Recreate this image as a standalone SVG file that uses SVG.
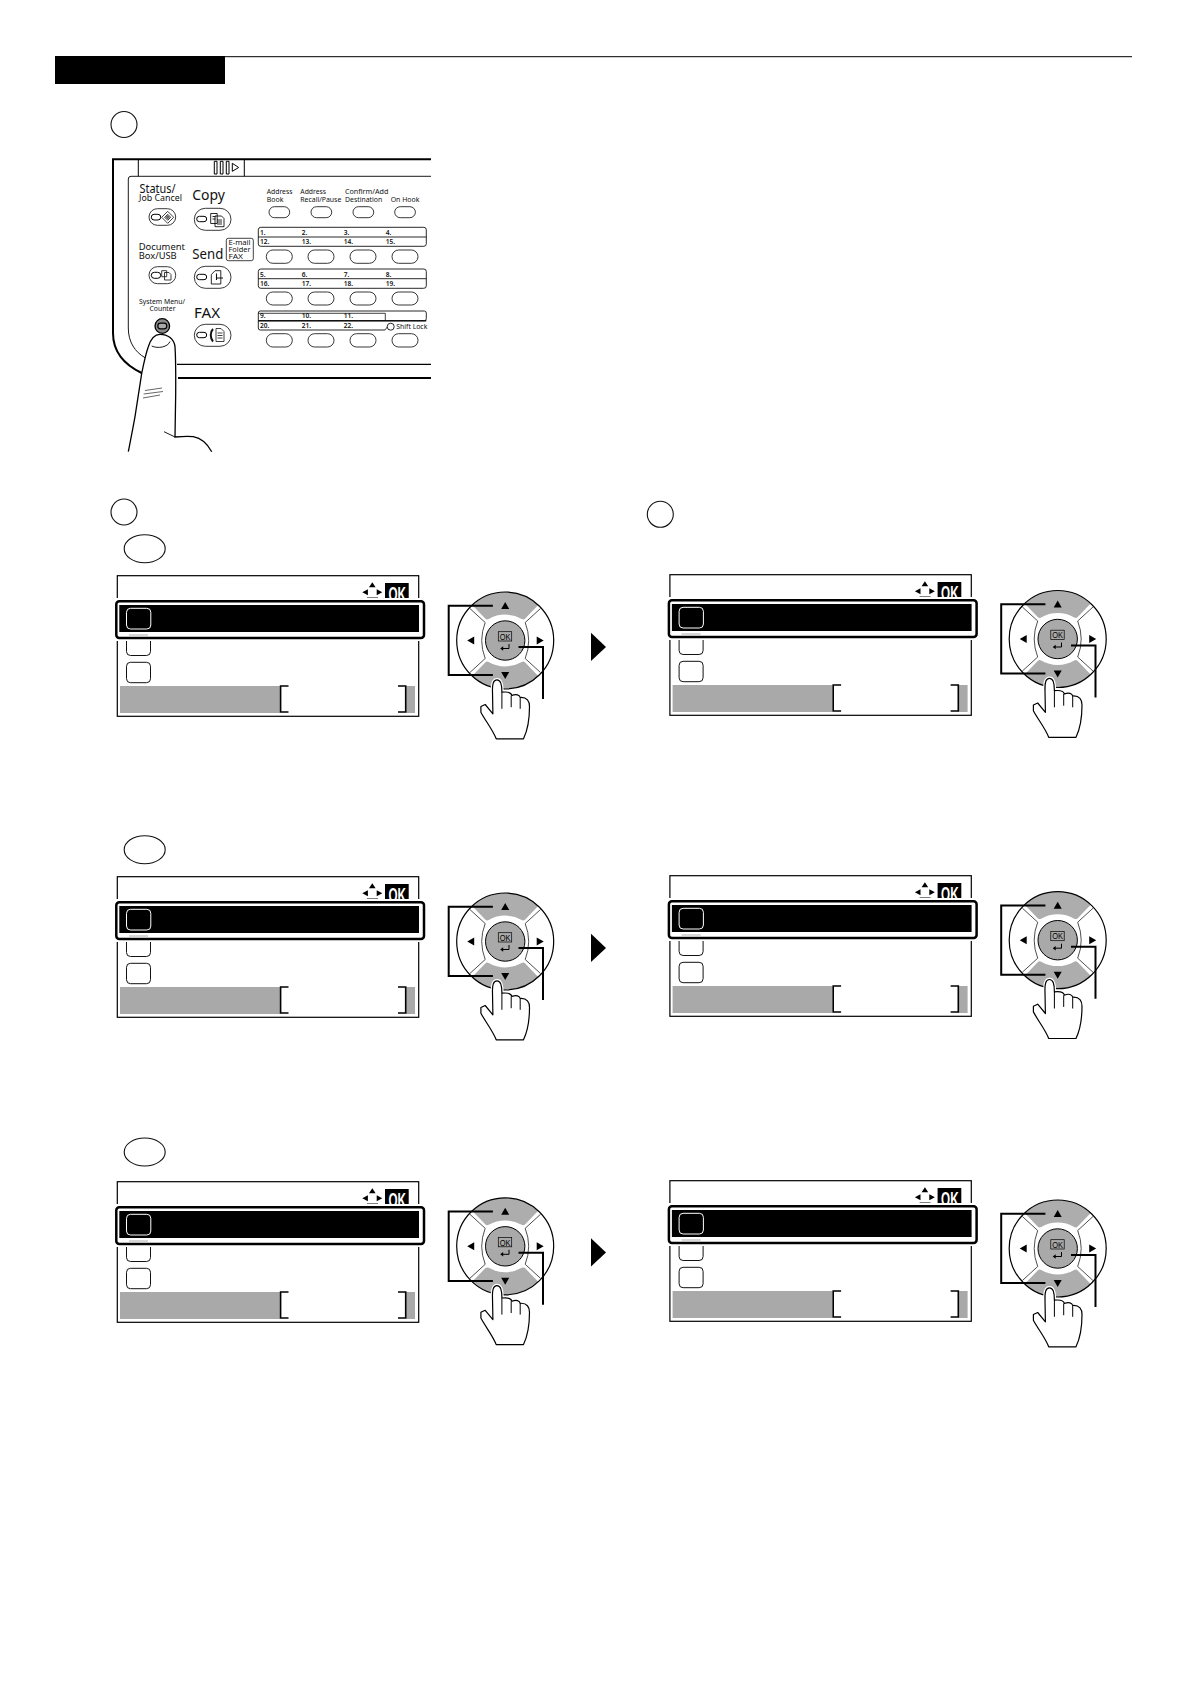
<svg xmlns="http://www.w3.org/2000/svg" width="1190" height="1684" viewBox="0 0 1190 1684">
<style>
text{font-family:"Noto Sans","Open Sans","Liberation Sans",sans-serif;fill:#111}
.l{fill:none;stroke:#000;stroke-width:1}
.k{fill:#fff;stroke:#222;stroke-width:.9}
.b{fill:#fff;stroke:#111;stroke-width:1}
.t6{font-size:6.6px}
.n{font-size:6.6px;font-weight:600}
.t15{font-size:14.5px}
.step{fill:#fff;stroke:#111;stroke-width:1.1}
.sec{fill:#adadad}
.lead{fill:none;stroke:#000;stroke-width:2}
</style>
<defs>
<g id="lcd">
<rect x="117.3" y="575.7" width="301.4" height="140.6" fill="#fff" stroke="#000" stroke-width="1.2"/>
<rect x="120" y="686" width="160" height="27" fill="#a9a9a9"/>
<rect x="406" y="686" width="9" height="27" fill="#a9a9a9"/>
<path d="M288.5,686H280.6V712H288.5M398,686H405.7V712H398" fill="none" stroke="#000" stroke-width="1.6"/>
<rect x="126.5" y="630" width="24" height="25.5" rx="4" class="b" stroke-width=".9"/>
<rect x="126.5" y="662.3" width="24" height="20.4" rx="4" class="b"/>
<path d="M372.3,582.3l3.3,5h-6.6zM362.3,592.3l5.6,-3v6zM382.3,592.3l-5.6,-3v6z" fill="#000"/>
<path d="M367,598H378" class="l" stroke-width=".8"/>
<rect x="385" y="583" width="23.7" height="20" fill="#000"/>
<text x="388.5" y="600.7" style="fill:#fff;font-family:'Liberation Sans',sans-serif;font-weight:700;font-size:20px" textLength="17.5" lengthAdjust="spacingAndGlyphs">OK</text>
<rect x="112" y="598" width="318" height="43" fill="#fff"/>
<rect x="116.3" y="601.3" width="307.7" height="36.7" rx="3" fill="#fff" stroke="#000" stroke-width="2.5"/>
<rect x="119.3" y="605" width="299.7" height="27" fill="#000"/>
<rect x="126.5" y="608.3" width="24.3" height="20.7" rx="4" fill="#000" stroke="#fff" stroke-width="1"/>
<path d="M129,635H148" stroke="#999" stroke-width=".8"/>
</g>
<g id="dial">
<circle cx="0" cy="0" r="48.5" fill="#fff"/>
<path class="sec" d="M-33,-35.5A48.5,48.5 0 0 1 33,-35.5L20,-22Q18.5,-20.5 16.5,-21.5A33,33 0 0 0 -16.5,-21.5Q-18.5,-20.5 -20,-22Z"/>
<path class="sec" d="M-33,35.5A48.5,48.5 0 0 0 33,35.5L20,22Q18.5,20.5 16.5,21.5A33,33 0 0 1 -16.5,21.5Q-18.5,20.5 -20,22Z"/>
<circle cx="0" cy="0" r="48.5" fill="none" stroke="#000" stroke-width="1.2"/>
<path d="M-35.3,-32L-20,-18Q-27,0 -20,18L-35.3,32M35.3,-32L20,-18Q27,0 20,18L35.3,32" fill="none" stroke="#222" stroke-width=".8"/>
<circle cx="0" cy="0" r="19.7" fill="#a9a9a9" stroke="#000" stroke-width="1"/>
<rect x="-6.9" y="-8.8" width="13.4" height="9.3" fill="none" stroke="#000" stroke-width=".7"/>
<text x="-5.5" y="-.8" style="fill:#000;font-family:'Liberation Sans',sans-serif;font-size:9.5px" textLength="10.8" lengthAdjust="spacingAndGlyphs">OK</text>
<path d="M3.8,3.5V8H-3" fill="none" stroke="#000" stroke-width="1"/>
<path d="M-5,8l3,-2.300v4.600zM0,-38.5l4,7h-8zM0,38.5l4,-7h-8zM-38,0l7,-4v8zM38.5,0l-7,-4v8z" fill="#000"/>
<path d="M-12.7,51.7C-13,44 -12,39.3 -8.3,39.3C-4.5,39.3 -3.3,44 -3.3,51.7C3,51 6,52 6.7,55C11,53 14.5,54.5 15,57C22,56.5 24.3,61 24.3,66C24.3,80 22.3,90 18.3,98.3H-9C-12,90 -20,80 -24.3,71.7V66L-20,64L-12.3,73.3Z" fill="#fff" stroke="#fff" stroke-width="3.5"/>
<path d="M-12.7,51.7C-13,44 -12,39.3 -8.3,39.3C-4.5,39.3 -3.3,44 -3.3,51.7C3,51 6,52 6.7,55C11,53 14.5,54.5 15,57C22,56.5 24.3,61 24.3,66C24.3,80 22.3,90 18.3,98.3H-9C-12,90 -20,80 -24.3,71.7V66L-20,64L-12.3,73.3Z" fill="#fff" stroke="#000" stroke-width="1.2" stroke-linejoin="round"/>
<path d="M-3.3,51.7V68.3M6,55V66.7M15,57V68.3" class="l"/>
</g>
<path id="leaders" class="lead" d="M-12.3,-34.8H-56.5V34.6H-12.3M13.3,6.5H37.8V58.5"/>
<path id="next" d="M591,632.7L606,647L591,661Z" fill="#000"/>
</defs>

<g id="header">
<rect x="55" y="56" width="170" height="28" fill="#000"/>
<path d="M225,56.7H1132" stroke="#000" stroke-width="1"/>
</g>

<g id="step-1"><circle class="step" cx="124" cy="124.5" r="13"/></g>

<g id="panel">
<path d="M431,159.3H113V333C113,352 125,365 141.7,373" fill="none" stroke="#000" stroke-width="2"/>
<path d="M178,378H431" fill="none" stroke="#000" stroke-width="2"/>
<path d="M177,364.3H431" fill="none" stroke="#000" stroke-width="1.2"/>
<path d="M431,176.3H131Q128.3,176.3 128.3,179V328C128.3,342 135,352 145,357.7" fill="none" stroke="#000" stroke-width=".9"/>
<path d="M138.3,159.3V176.3M244.3,159.3V176.3" class="l"/>
<path d="M214.3,161.3h2.7v12.7h-2.7zM220.3,161.3h2.7v12.7h-2.7zM226.3,161.3h2.7v12.7h-2.7zM232.3,163.3l6.4,4.2l-6.4,3.8z" class="l"/>

<text x="139.5" y="192.5" style="font-size:12px" textLength="36" lengthAdjust="spacingAndGlyphs">Status/</text>
<text x="139" y="200.7" style="font-size:9px" textLength="43" lengthAdjust="spacingAndGlyphs">Job Cancel</text>
<text x="192.3" y="199.8" class="t15" textLength="32.7" lengthAdjust="spacingAndGlyphs">Copy</text>
<text x="138.7" y="250" style="font-size:9.8px" textLength="46.3" lengthAdjust="spacingAndGlyphs">Document</text>
<text x="138.7" y="258.7" style="font-size:9.8px" textLength="38" lengthAdjust="spacingAndGlyphs">Box/USB</text>
<text x="192.3" y="259" class="t15" textLength="31" lengthAdjust="spacingAndGlyphs">Send</text>
<rect x="226.3" y="238.3" width="27" height="22.4" rx="2" fill="#fff" stroke="#111" stroke-width=".8"/>
<text x="228.5" y="245.3" style="font-size:7.5px" textLength="22" lengthAdjust="spacingAndGlyphs">E-mail</text>
<text x="228.5" y="251.9" style="font-size:7.5px" textLength="22" lengthAdjust="spacingAndGlyphs">Folder</text>
<text x="228.5" y="258.7" style="font-size:7.5px" textLength="14.5" lengthAdjust="spacingAndGlyphs">FAX</text>
<text x="139" y="304" style="font-size:7px" textLength="46" lengthAdjust="spacingAndGlyphs">System Menu/</text>
<text x="149.5" y="311.3" style="font-size:7px" textLength="26" lengthAdjust="spacingAndGlyphs">Counter</text>
<text x="194" y="317.7" class="t15" textLength="26" lengthAdjust="spacingAndGlyphs">FAX</text>

<text x="266.7" y="194" class="t6" textLength="25.7" lengthAdjust="spacingAndGlyphs">Address</text>
<text x="266.7" y="202" class="t6" textLength="16.7" lengthAdjust="spacingAndGlyphs">Book</text>
<text x="300.3" y="194" class="t6" textLength="25.7" lengthAdjust="spacingAndGlyphs">Address</text>
<text x="300.3" y="202" class="t6" textLength="41" lengthAdjust="spacingAndGlyphs">Recall/Pause</text>
<text x="345" y="194" class="t6" textLength="43.3" lengthAdjust="spacingAndGlyphs">Confirm/Add</text>
<text x="345" y="202" class="t6" textLength="37.3" lengthAdjust="spacingAndGlyphs">Destination</text>
<text x="390.7" y="202" class="t6" textLength="28.7" lengthAdjust="spacingAndGlyphs">On Hook</text>

<g id="small-keys">
<rect class="k" x="269" y="206.7" width="20.7" height="11" rx="5.5"/>
<rect class="k" x="311" y="206.7" width="20.7" height="11" rx="5.5"/>
<rect class="k" x="353" y="206.7" width="20.7" height="11" rx="5.5"/>
<rect class="k" x="394.7" y="206.7" width="20.7" height="11" rx="5.5"/>
</g>
<g id="strip-1">
<rect x="258.3" y="227.3" width="168" height="19" rx="2.5" fill="none" stroke="#111" stroke-width=".9"/>
<path d="M258.3,237H426.3" stroke="#111" stroke-width=".9"/>
<text class="n" x="260" y="234.7">1.</text><text class="n" x="301.7" y="234.7">2.</text><text class="n" x="343.7" y="234.7">3.</text><text class="n" x="385.7" y="234.7">4.</text>
<text class="n" x="260" y="244">12.</text><text class="n" x="301.7" y="244">13.</text><text class="n" x="343.7" y="244">14.</text><text class="n" x="385.7" y="244">15.</text>
</g>
<g id="keys-1">
<rect class="k" x="266.3" y="250" width="26" height="13.3" rx="6.6"/><rect class="k" x="308" y="250" width="26" height="13.3" rx="6.6"/><rect class="k" x="350" y="250" width="26" height="13.3" rx="6.6"/><rect class="k" x="392" y="250" width="26" height="13.3" rx="6.6"/>
</g>
<g id="strip-2">
<rect x="258.3" y="269" width="168" height="19.3" rx="2.5" fill="none" stroke="#111" stroke-width=".9"/>
<path d="M258.3,278.7H426.3" stroke="#111" stroke-width=".9"/>
<text class="n" x="260" y="276.7">5.</text><text class="n" x="301.7" y="276.7">6.</text><text class="n" x="343.7" y="276.7">7.</text><text class="n" x="385.7" y="276.7">8.</text>
<text class="n" x="260" y="285.7">16.</text><text class="n" x="301.7" y="285.7">17.</text><text class="n" x="343.7" y="285.7">18.</text><text class="n" x="385.7" y="285.7">19.</text>
</g>
<g id="keys-2">
<rect class="k" x="266.3" y="292" width="26" height="13" rx="6.5"/><rect class="k" x="308" y="292" width="26" height="13" rx="6.5"/><rect class="k" x="350" y="292" width="26" height="13" rx="6.5"/><rect class="k" x="392" y="292" width="26" height="13" rx="6.5"/>
</g>
<g id="strip-3">
<path d="M385,330H260.3Q258.3,330 258.3,328V313Q258.3,311 260.3,311H424.3Q426.3,311 426.3,313V318.7Q426.3,320.7 424.3,320.7H258.3" fill="none" stroke="#111" stroke-width=".9"/>
<path d="M258.3,320.7H426.3" stroke="#111" stroke-width="1.4"/>
<path d="M258.3,313.3H385.3V320.7M385,330L388,326" fill="none" stroke="#111" stroke-width=".8"/>
<circle cx="390.7" cy="326.7" r="3.5" fill="#fff" stroke="#111" stroke-width=".9"/>
<text class="n" x="260" y="318.3">9.</text><text class="n" x="301.7" y="318.3">10.</text><text class="n" x="343.7" y="318.3">11.</text>
<text class="n" x="260" y="328">20.</text><text class="n" x="301.7" y="328">21.</text><text class="n" x="343.7" y="328">22.</text>
<text x="396.3" y="329.3" class="t6" textLength="31" lengthAdjust="spacingAndGlyphs">Shift Lock</text>
</g>
<g id="keys-3">
<rect class="k" x="266.3" y="333.7" width="26" height="13.3" rx="6.6"/><rect class="k" x="308" y="333.7" width="26" height="13.3" rx="6.6"/><rect class="k" x="350" y="333.7" width="26" height="13.3" rx="6.6"/><rect class="k" x="392" y="333.7" width="26" height="13.3" rx="6.6"/>
</g>

<g id="btn-status">
<rect class="k" x="149" y="208.7" width="26.7" height="16.6" rx="8.3"/>
<rect class="l" x="151.3" y="214.3" width="9.4" height="5.7" rx="2.8"/>
<path d="M167.7,211.3l6,6l-6,6l-6,-6zM167.7,214.3l3,3l-3,3l-3,-3z" fill="none" stroke="#111" stroke-width=".8"/>
<path d="M167.7,215l2.3,2.3l-2.3,2.3l-2.3,-2.3z" fill="#666"/>
</g>
<g id="btn-copy">
<rect class="k" x="194.3" y="208.3" width="36.7" height="22" rx="11"/>
<rect class="l" x="196.7" y="216.3" width="10" height="5.4" rx="2.7"/>
<path d="M210.7,213.5h6.5v10h-6.5zM215,216h6.5l2.5,2.5v8.2h-9zM212.5,216.5h3M212.5,219h3M217,220h5M217,222h5M217,224h5" fill="#fff" stroke="#111" stroke-width=".9"/>
</g>
<g id="btn-box">
<rect class="k" x="149" y="266.7" width="26.7" height="17" rx="8.4"/>
<rect class="l" x="151.3" y="272.3" width="9.4" height="6" rx="3"/>
<path d="M161.7,270.7h5v6h-5zM164.5,272.5h4.5l2,2v5.5h-6.5z" fill="#fff" stroke="#111" stroke-width=".8"/>
</g>
<g id="btn-send">
<rect class="k" x="194.3" y="266.3" width="36.7" height="22" rx="11"/>
<rect class="l" x="196.7" y="274.3" width="10" height="5.4" rx="2.7"/>
<path d="M215,270.7l-3.7,4v9.3h9.5v-13.3z" fill="#fff" stroke="#111" stroke-width=".9"/>
<path d="M216.5,273.5v6.5M216.5,278h6.5" fill="none" stroke="#111" stroke-width="1.1"/>
</g>
<g id="btn-fax">
<rect class="k" x="194.3" y="324.3" width="36.7" height="22" rx="11"/>
<rect class="l" x="196.7" y="332.3" width="10" height="5.4" rx="2.7"/>
<path d="M213,329C210,332 210,338 213,341.5" fill="none" stroke="#111" stroke-width="2"/>
<path d="M216,328.5h5l3,3v10h-8zM217.5,333h5M217.5,335.5h5M217.5,338h5" fill="#fff" stroke="#111" stroke-width=".8"/>
</g>
<g id="btn-system">
<circle cx="162.3" cy="326" r="7.3" fill="#8c8c8c" stroke="#000" stroke-width="1.3"/>
<rect x="157.8" y="323.2" width="9" height="5.6" rx="2.8" fill="#aaa" stroke="#000" stroke-width="1.2"/>
</g>
<g id="finger">
<path d="M128.3,451.7C131,438 133,428 135,416.7L141.7,373.3C144,362 146,353 148.3,346.7C151,338 155,334.3 160,334.3C168,334.3 174,339 175,346.7C176,362 175.7,378 175.7,393.3L175,437C181,436.5 188,436 193.3,436.7C200,438 207,443 211.7,451.7" fill="#fff" stroke="#000" stroke-width="1.3"/>
<path d="M151.7,346C158,349 168,347 170,341.5M164,431.7L175,437" fill="none" stroke="#000" stroke-width=".9"/>
<path d="M145,390.5L162,388M143.7,394L163,391.5M143,398L160,395" fill="none" stroke="#000" stroke-width=".6"/>
</g>
</g>

<g id="step-2"><circle class="step" cx="124" cy="512" r="13"/></g>
<g id="step-3"><circle class="step" cx="660.3" cy="514.3" r="13"/></g>
<g id="tag-a"><ellipse class="step" cx="144.7" cy="548.7" rx="20.5" ry="14"/></g>
<g id="tag-b"><ellipse class="step" cx="144.7" cy="849.7" rx="20.5" ry="14"/></g>
<g id="tag-c"><ellipse class="step" cx="144.7" cy="1152" rx="20.5" ry="14"/></g>

<g id="lcd-a1"><use href="#lcd"/></g>
<g id="lcd-a2"><use href="#lcd" x="552.6" y="-1"/></g>
<g id="lcd-b1"><use href="#lcd" y="301"/></g>
<g id="lcd-b2"><use href="#lcd" x="552.6" y="300"/></g>
<g id="lcd-c1"><use href="#lcd" y="606"/></g>
<g id="lcd-c2"><use href="#lcd" x="552.6" y="605"/></g>

<g id="dial-a1"><use href="#dial" x="505.2" y="640.5"/></g>
<g id="dial-a2"><use href="#dial" x="1057.7" y="639"/></g>
<g id="dial-b1"><use href="#dial" x="505.2" y="941.5"/></g>
<g id="dial-b2"><use href="#dial" x="1057.7" y="940.2"/></g>
<g id="dial-c1"><use href="#dial" x="505.2" y="1246.3"/></g>
<g id="dial-c2"><use href="#dial" x="1057.7" y="1248.5"/></g>

<g id="arrow-a"><use href="#next"/></g>
<g id="arrow-b"><use href="#next" y="301"/></g>
<g id="arrow-c"><use href="#next" y="605.6"/></g>

<g id="connectors">
<use href="#leaders" x="505.2" y="640.5"/>
<use href="#leaders" x="1057.7" y="639"/>
<use href="#leaders" x="505.2" y="941.5"/>
<use href="#leaders" x="1057.7" y="940.2"/>
<use href="#leaders" x="505.2" y="1246.3"/>
<use href="#leaders" x="1057.7" y="1248.5"/>
</g>
</svg>
